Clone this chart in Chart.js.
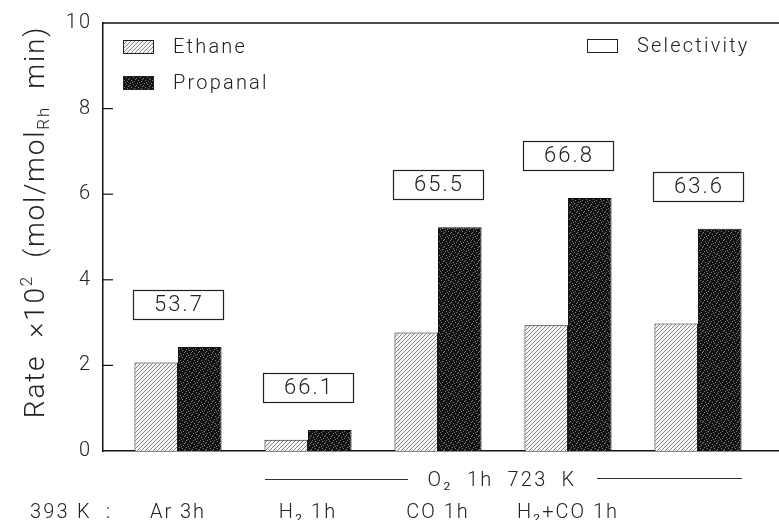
<!DOCTYPE html>
<html>
<head>
<meta charset="utf-8">
<script src="https://cdn.jsdelivr.net/npm/chart.js@4.4.1/dist/chart.umd.min.js"></script>
<style>
  html, body { margin: 0; padding: 0; background: #fff; }
  #wrap { width: 779px; height: 520px; }
</style>
</head>
<body>
<div id="wrap"><canvas id="c" width="779" height="520"></canvas></div>
<script>
// Pretreatment conditions (one group of bars each)
const categories = ['Ar 3h', 'H₂ 1h', 'CO 1h', 'H₂+CO 1h', ''];
// Rate x 10^2 (mol/mol_Rh min)
const ethaneRate   = [2.07, 0.26, 2.77, 2.94, 2.98];
const propanalRate = [2.43, 0.49, 5.23, 5.91, 5.19];
// Selectivity to propanal (%)
const selectivity  = [53.7, 66.1, 65.5, 66.8, 63.6];
const yTicks = [0, 2, 4, 6, 8, 10];
const seriesNames = ['Ethane', 'Propanal', 'Selectivity'];

const FONT = 'Roboto, "DejaVu Sans", sans-serif';
const INK = '#222';

// Light diagonal hatching for the ethane bars
function hatchPattern() {
  const t = document.createElement('canvas');
  t.width = 4; t.height = 4;
  const g = t.getContext('2d');
  g.fillStyle = '#f4f4f4';
  g.fillRect(0, 0, 4, 4);
  g.strokeStyle = '#7a7a7a';
  g.lineWidth = 0.9;
  for (const k of [-4, 0, 4]) {
    g.beginPath(); g.moveTo(k, 4); g.lineTo(k + 4, 0); g.stroke();
  }
  return g.createPattern(t, 'repeat');
}

// Dark stipple for the propanal bars
function stipplePattern() {
  const t = document.createElement('canvas');
  t.width = 7; t.height = 7;
  const g = t.getContext('2d');
  g.fillStyle = '#121212';
  g.fillRect(0, 0, 7, 7);
  g.fillStyle = '#7e7e7e';
  const specks = [[0,0],[3,1],[5,3],[1,4],[4,6],[6,5],[2,2]];
  for (const [x, y] of specks) g.fillRect(x, y, 1, 1);
  return g.createPattern(t, 'repeat');
}

const ethaneFill = hatchPattern();
const propanalFill = stipplePattern();

function spaced(ctx, px) { if ('letterSpacing' in ctx) ctx.letterSpacing = px; }

const decorations = {
  id: 'decorations',
  beforeDraw(chart) { spaced(chart.ctx, '2px'); },
  afterDraw(chart) {
    const ctx = chart.ctx;
    const a = chart.chartArea;
    const ys = chart.scales.y;
    ctx.save();
    ctx.strokeStyle = '#111';
    ctx.lineWidth = 1.5;
    // top frame line
    ctx.beginPath(); ctx.moveTo(a.left, a.top); ctx.lineTo(a.right, a.top); ctx.stroke();
    // inward tick marks on the rate axis
    ctx.lineWidth = 1.2;
    for (const v of yTicks) {
      if (v === 0 || v === 10) continue;
      const y = ys.getPixelForValue(v);
      ctx.beginPath(); ctx.moveTo(a.left, y); ctx.lineTo(a.left + 10, y); ctx.stroke();
    }

    // legend
    ctx.fillStyle = INK;
    ctx.textBaseline = 'middle';
    ctx.textAlign = 'left';
    ctx.font = '300 20px ' + FONT;
    spaced(ctx, '2.2px');
    const sw = [
      { fill: ethaneFill, x: 123, y: 40, label: seriesNames[0], tx: 173 },
      { fill: propanalFill, x: 123, y: 76, label: seriesNames[1], tx: 173 },
      { fill: '#fff', x: 587, y: 39, label: seriesNames[2], tx: 637 }
    ];
    for (const s of sw) {
      ctx.fillStyle = s.fill;
      ctx.fillRect(s.x, s.y, 31, 14);
      ctx.lineWidth = 1;
      ctx.strokeStyle = '#222';
      ctx.strokeRect(s.x + 0.5, s.y + 0.5, 30, 13);
      ctx.fillStyle = INK;
      ctx.fillText(s.label, s.tx, s.y + 8);
    }

    // selectivity boxes above each pair of bars
    const m0 = chart.getDatasetMeta(0).data;
    const m1 = chart.getDatasetMeta(1).data;
    ctx.font = '300 22px ' + FONT;
    ctx.textAlign = 'center';
    spaced(ctx, '2px');
    for (let i = 0; i < selectivity.length; i++) {
      const cx = (m0[i].x + m1[i].x) / 2;
      const top = Math.min(m0[i].y, m1[i].y);
      const bh = 29, bw = 90;
      const by = top - 28 - bh;
      ctx.fillStyle = '#fff';
      ctx.fillRect(cx - bw / 2, by, bw, bh);
      ctx.strokeStyle = '#222';
      ctx.lineWidth = 1.2;
      ctx.strokeRect(Math.round(cx - bw / 2) + 0.5, Math.round(by) + 0.5, bw, bh);
      ctx.fillStyle = INK;
      ctx.fillText(selectivity[i].toFixed(1), cx + 1, by + bh / 2 + 1);
    }

    // rotated axis title with super- and subscript
    const parts = [
      ['Rate  \u00d710', 0], ['2', -1], ['  (mol/mol', 0], ['Rh', 1], ['  min)', 0]
    ];
    const big = '300 28px ' + FONT, small = '300 17px ' + FONT;
    ctx.save();
    ctx.translate(34, 222);
    ctx.rotate(-Math.PI / 2);
    ctx.textAlign = 'left';
    ctx.textBaseline = 'alphabetic';
    spaced(ctx, '1.8px');
    let total = 0;
    for (const [t, k] of parts) { ctx.font = k ? small : big; total += ctx.measureText(t).width; }
    let x = -total / 2;
    for (const [t, k] of parts) {
      ctx.font = k ? small : big;
      ctx.fillText(t, x, 10 + (k === -1 ? -12 : k === 1 ? 5 : 0));
      x += ctx.measureText(t).width;
    }
    ctx.restore();

    // O2 treatment bracket under the last four groups
    ctx.strokeStyle = '#333';
    ctx.lineWidth = 1;
    ctx.beginPath(); ctx.moveTo(265, 479.5); ctx.lineTo(408, 479.5); ctx.stroke();
    ctx.beginPath(); ctx.moveTo(597, 478.5); ctx.lineTo(742, 478.5); ctx.stroke();
    ctx.fillStyle = INK;
    ctx.textAlign = 'center';
    ctx.textBaseline = 'alphabetic';
    ctx.font = '300 20px ' + FONT;
    spaced(ctx, '2.2px');
    ctx.fillText('O\u2082  1h  723  K', 502, 486);
    ctx.textAlign = 'left';
    ctx.fillText('393 K  :', 30, 518);
    ctx.restore();
  }
};

const ctx = document.getElementById('c').getContext('2d');
new Chart(ctx, {
  type: 'bar',
  data: {
    datasets: [
      {
        label: seriesNames[0],
        data: categories.map((_, i) => ({ x: i, y: ethaneRate[i] })),
        backgroundColor: ethaneFill,
        borderColor: '#1a1a1a',
        borderWidth: 1
      },
      {
        label: seriesNames[1],
        data: categories.map((_, i) => ({ x: i, y: propanalRate[i] })),
        backgroundColor: propanalFill,
        borderColor: '#111',
        borderWidth: 1
      }
    ]
  },
  options: {
    responsive: false,
    animation: false,
    events: [],
    layout: { padding: { top: 20, left: 0, right: 0, bottom: 0 } },
    datasets: { bar: { categoryPercentage: 0.67, barPercentage: 1.0 } },
    plugins: { legend: { display: false }, tooltip: { enabled: false } },
    scales: {
      x: {
        type: 'linear',
        offset: false,
        min: -0.577,
        max: 4.623,
        afterBuildTicks: s => { s.ticks = categories.map((_, i) => ({ value: i })); },
        afterFit: s => { s.height = 69; },
        grid: { display: false, drawTicks: false, offset: false },
        border: { display: true, color: '#111', width: 1.5 },
        ticks: {
          autoSkip: false,
          maxRotation: 0,
          padding: 50,
          color: INK,
          font: { family: FONT, size: 20, weight: 300 },
          callback: v => categories[v] ?? ''
        }
      },
      y: {
        min: 0,
        max: 10,
        afterFit: s => { s.width = 103; },
        grid: { display: false, drawTicks: false },
        border: { display: true, color: '#111', width: 1.5 },
        ticks: {
          stepSize: 2,
          padding: 11,
          color: INK,
          font: { family: FONT, size: 20, weight: 300 },
          callback: v => yTicks.includes(v) ? String(v) : ''
        }
      }
    }
  },
  plugins: [decorations]
});
</script>
</body>
</html>
